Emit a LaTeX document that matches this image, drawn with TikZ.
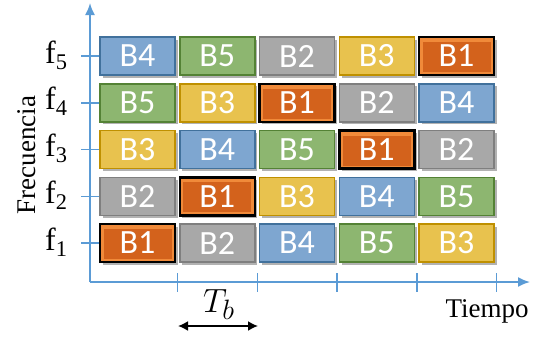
\documentclass[tikz,border=0pt]{standalone}
\usepackage{graphicx}
\usepackage{fontspec}
\setmainfont{Liberation Serif}
\newfontfamily\boxfont{Carlito}
\usetikzlibrary{arrows.meta,shadows}
\definecolor{axisblue}{HTML}{5B9BD5}
\definecolor{bluefill}{HTML}{7EA6D0}
\definecolor{blueline}{HTML}{41719C}
\definecolor{greenfill}{HTML}{8DB670}
\definecolor{greenline}{HTML}{548235}
\definecolor{grayfill}{HTML}{A8A8A8}
\definecolor{grayline}{HTML}{7F7F7F}
\definecolor{yellowfill}{HTML}{E8C24E}
\definecolor{yellowline}{HTML}{BF9000}
\definecolor{orangefill}{HTML}{D3621C}
\definecolor{orangelight}{HTML}{F08A3A}
\tikzset{
  blk/.style={minimum width=75pt, minimum height=38pt, inner sep=0pt, line width=1.5pt,
    text=white, font=\boxfont\fontsize{34}{34}\selectfont,
    drop shadow={shadow xshift=2.5pt, shadow yshift=-2.5pt, opacity=0.3, fill=black}},
  box1/.style={blk, fill=orangelight, draw=black, line width=2.5pt,
    path picture={\fill[orangefill] ([xshift=3.5pt,yshift=-5pt]path picture bounding box.north west) rectangle ([xshift=-3.5pt,yshift=3pt]path picture bounding box.south east);}},
  box2/.style={blk, fill=grayfill, draw=grayline},
  box3/.style={blk, fill=yellowfill, draw=yellowline},
  box4/.style={blk, fill=bluefill, draw=blueline},
  box5/.style={blk, fill=greenfill, draw=greenline},
  axis/.style={draw=axisblue, line width=1.8pt},
  tick/.style={draw=axisblue, line width=1.5pt},
  flabel/.style={anchor=base east, font=\fontsize{32}{32}\selectfont},
  axlabel/.style={font=\fontsize{27}{27}\selectfont},
}
\begin{document}
\begin{tikzpicture}[x=1pt,y=-1pt]
\useasboundingbox (0,0) rectangle (537,340);
% axes
\coordinate (origin) at (90,282);
\coordinate (ytop) at (90,3);
\coordinate (xend) at (530,282);
\draw[axis,-{Latex[length=12pt,width=10pt]}] (origin) -- (ytop);
\draw[axis,-{Latex[length=12pt,width=10pt]}] (origin) -- (xend);
% x ticks
\foreach \i in {0,...,4} {
  \coordinate (xt\i a) at (177.5+79.75*\i,273);
  \coordinate (xt\i b) at (177.5+79.75*\i,292);
  \draw[tick] (xt\i a) -- (xt\i b);
}
% y ticks and labels
\foreach \r/\lab in {1/5,2/4,3/3,4/2,5/1} {
  \coordinate (yt\r a) at (81,56+46.75*\r-46.75);
  \coordinate (yt\r b) at (99,56+46.75*\r-46.75);
  \draw[tick] (yt\r a) -- (yt\r b);
  \node[flabel] (f\lab) at (71,63+46.75*\r-46.75) {f\textsubscript{\lab}};
}
% boxes
\foreach \row [count=\r] in {{4,5,2,3,1},{5,3,1,2,4},{3,4,5,1,2},{2,1,3,4,5},{1,2,4,5,3}} {
  \foreach \b [count=\c] in \row {
    \node[box\b] (n\r-\c) at (137.5+79.75*\c-79.75, 56+46.75*\r-46.75) {B\b};
  }
}
% labels
\node[axlabel, anchor=base west] (tiempo) at (442,317) {Tiempo};
\node[axlabel, rotate=90, anchor=base] (frec) at (35,155) {Frecuencia};
\node[anchor=base] (tb) at (219,312) {\scalebox{1.35}{\Huge$T_b$}};
\coordinate (tbl) at (178,326);
\coordinate (tbr) at (258,326);
\draw[line width=1.8pt, {Latex[length=10pt,width=10pt]}-{Latex[length=10pt,width=10pt]}] (tbl) -- (tbr);
\end{tikzpicture}
\end{document}
